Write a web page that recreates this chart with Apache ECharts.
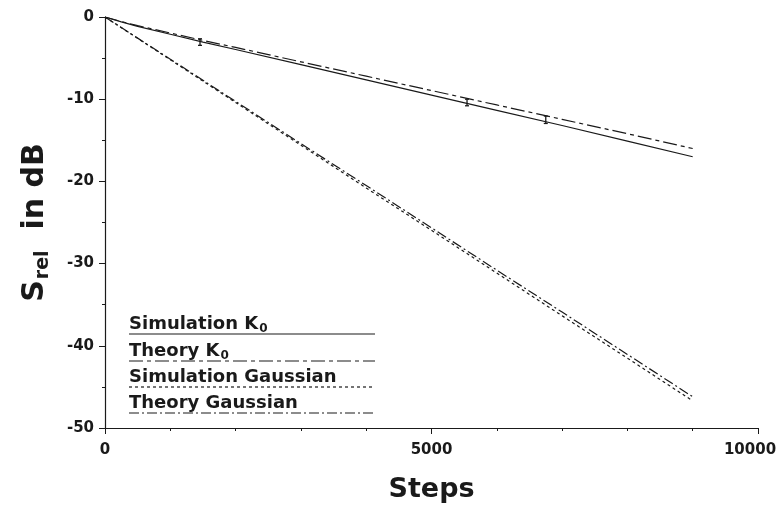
<!DOCTYPE html>
<html><head><meta charset="utf-8">
<script src="https://cdn.jsdelivr.net/npm/echarts@6/dist/echarts.min.js"></script>
<style>html,body{margin:0;padding:0;background:#fff}#c{width:780px;height:508px}</style>
</head><body><div id="c"></div>
<script>
const steps = [0, 250, 500, 1000, 1500, 2000, 3000, 4000, 5000, 6000, 7000, 8000, 9000];
const simK0 = [0, -0.6, -1.15, -2.1, -3.05, -3.95, -5.8, -7.65, -9.5, -11.35, -13.2, -15.1, -17.0];
const theoryK0 = [0, -0.55, -1.05, -1.95, -2.85, -3.7, -5.45, -7.2, -8.95, -10.7, -12.45, -14.2, -16.0];
const simGauss = [0, -1.3, -2.6, -5.2, -7.8, -10.4, -15.6, -20.8, -25.95, -31.15, -36.35, -41.5, -46.7];
const theoryGauss = [0, -1.28, -2.57, -5.13, -7.7, -10.27, -15.4, -20.5, -25.65, -30.8, -35.9, -41.05, -46.2];
const errX = [1455, 5544, 6750];
const errY = [-3.05, -10.4, -12.5];
const errE = [0.4, 0.4, 0.45];
const legendNames = ['Simulation K', 'Theory K', 'Simulation Gaussian', 'Theory Gaussian'];
const legendSubs = ['0', '0', '', ''];
const yTicks = [0, -10, -20, -30, -40, -50];
const xTicks = [0, 5000, 10000];

const FONT = '"DejaVu Sans", "Liberation Sans", Arial, sans-serif';
const ink = '#1a1a1a';
const styles = [
  {type: 'solid'},
  {type: [14, 4, 4, 4]},
  {type: [3, 3]},
  {type: [10, 3, 2, 3]}
];
const seriesData = [simK0, theoryK0, simGauss, theoryGauss];

const chart = echarts.init(document.getElementById('c'), null, {renderer: 'canvas'});
const series = seriesData.map((arr, i) => ({
  name: legendNames[i] + legendSubs[i], type: 'line', showSymbol: false, symbol: 'none',
  data: steps.map((s, j) => [s, arr[j]]),
  lineStyle: {color: ink, width: 1.2, type: styles[i].type},
  animation: false, z: 3
}));
series.push({
  type: 'custom', animation: false, z: 4,
  data: errX.map((x, i) => [x, errY[i], errE[i]]),
  renderItem: function (params, api) {
    const x = api.value(0), y = api.value(1), e = api.value(2);
    const p1 = api.coord([x, y + e]), p2 = api.coord([x, y - e]);
    const w = 2;
    const st = {stroke: ink, lineWidth: 1.3};
    return {type: 'group', children: [
      {type: 'line', shape: {x1: p1[0], y1: p1[1], x2: p2[0], y2: p2[1]}, style: st},
      {type: 'line', shape: {x1: p1[0] - w, y1: p1[1], x2: p1[0] + w, y2: p1[1]}, style: st},
      {type: 'line', shape: {x1: p2[0] - w, y1: p2[1], x2: p2[0] + w, y2: p2[1]}, style: st}
    ]};
  }
});

// legend as graphic: text with underline in the series' style
const legendGraphics = [];
const legBase = [331, 358, 384, 410];
legendNames.forEach((n, i) => {
  legendGraphics.push({
    type: 'text', x: 129, y: legBase[i] - 7,
    style: {
      text: '{t|' + n + '}' + (legendSubs[i] ? '{s|' + legendSubs[i] + '}' : ''),
      verticalAlign: 'middle',
      rich: {
        t: {font: 'bold 18px ' + FONT, fill: ink},
        s: {font: 'bold 12px ' + FONT, fill: ink, padding: [10, 0, 0, 1]}
      }
    }
  });
  legendGraphics.push({
    type: 'line', shape: {x1: 129, y1: legBase[i] + 3, x2: 375, y2: legBase[i] + 3},
    style: {stroke: ink, lineWidth: 1.2, lineDash: styles[i].type === 'solid' ? null : styles[i].type}
  });
});

const tickFont = {color: ink, fontFamily: FONT, fontWeight: 'bold', fontSize: 15};

chart.setOption({
  backgroundColor: '#fff',
  animation: false,
  grid: {left: 105, right: 22, top: 17, bottom: 80, containLabel: false, outerBoundsMode: 'none'},
  xAxis: {
    type: 'value', min: 0, max: 10000, interval: 5000,
    axisLine: {onZero: false, lineStyle: {color: ink, width: 1.2}},
    axisTick: {show: true, length: 6, lineStyle: {color: ink}},
    minorTick: {show: true, splitNumber: 5, length: 3, lineStyle: {color: ink}},
    splitLine: {show: false},
    axisLabel: Object.assign({}, tickFont, {margin: 15,
      rich: {m: Object.assign({}, tickFont, {padding: [0, 16, 0, 0]})},
      formatter: v => xTicks.indexOf(v) < 0 ? '' : (v === 10000 ? '{m|' + v + '}' : String(v))}),
    name: 'Steps', nameLocation: 'middle', nameGap: 48,
    nameTextStyle: {color: ink, fontFamily: FONT, fontWeight: 'bold', fontSize: 27}
  },
  yAxis: {
    type: 'value', min: -50, max: 0, interval: 10,
    axisLine: {onZero: false, lineStyle: {color: ink, width: 1.2}},
    axisTick: {show: true, length: 6, lineStyle: {color: ink}},
    minorTick: {show: true, splitNumber: 2, length: 3, lineStyle: {color: ink}},
    splitLine: {show: false},
    axisLabel: Object.assign({}, tickFont, {margin: 11,
      formatter: v => yTicks.indexOf(v) >= 0 ? String(v) : ''}),
    name: '{s|S}{sub|rel}{s|  in dB}', nameLocation: 'middle', nameGap: 52, nameRotate: 90,
    nameTextStyle: {
      rich: {
        s: {color: ink, fontFamily: FONT, fontWeight: 'bold', fontSize: 30},
        sub: {color: ink, fontFamily: FONT, fontWeight: 'bold', fontSize: 19, verticalAlign: 'bottom', padding: [16, 0, 0, 1]}
      }
    }
  },
  graphic: legendGraphics,
  series: series
});
</script></body></html>
